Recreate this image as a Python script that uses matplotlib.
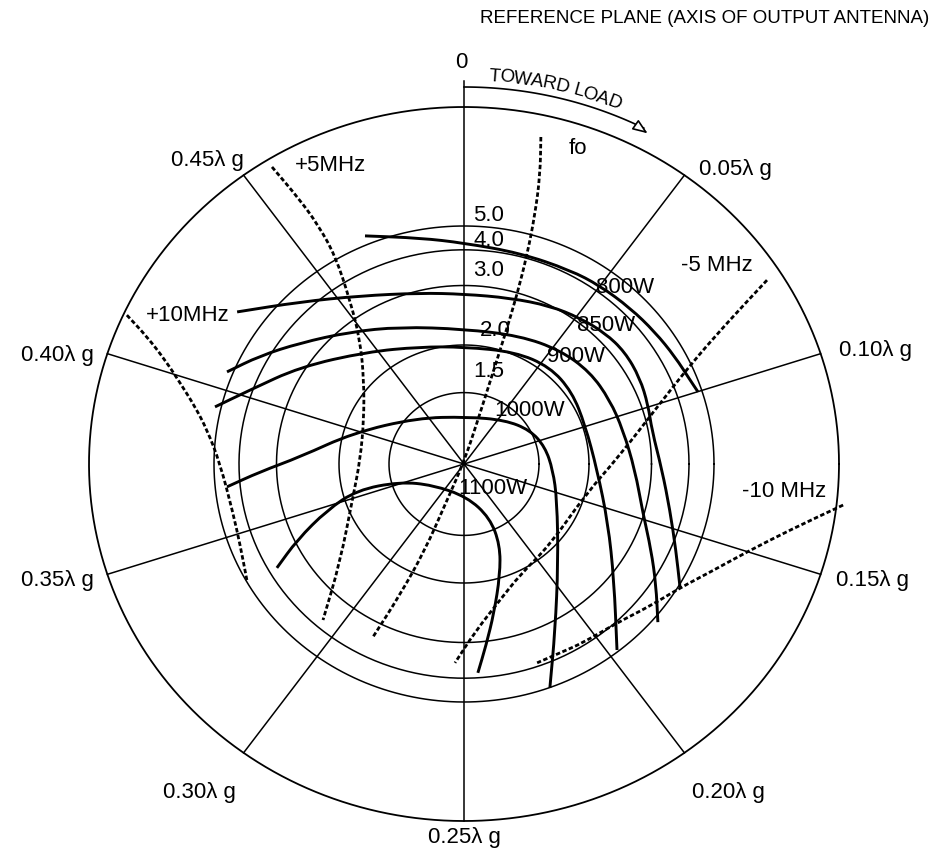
import numpy as np
import matplotlib
matplotlib.use("Agg")
import matplotlib.pyplot as plt
from matplotlib.path import Path
from matplotlib.patches import PathPatch

plt.rcParams['font.family'] = ['Liberation Sans', 'DejaVu Sans']

# VSWR circles
vswr = [1.5, 2.0, 3.0, 4.0, 5.0]
vswr_labels = ["1.5", "2.0", "3.0", "4.0", "5.0"]

# distance from the reference plane, toward load (wavelengths)
wl_marks = [0.0, 0.05, 0.10, 0.15, 0.20, 0.25, 0.30, 0.35, 0.40, 0.45]
wl_labels = ["0", "0.05λ g", "0.10λ g", "0.15λ g", "0.20λ g",
             "0.25λ g", "0.30λ g", "0.35λ g", "0.40λ g", "0.45λ g"]

# power contours, points in the reflection plane (u, v)
p800 = [(-0.264, 0.639), (-0.117, 0.633), (0.0, 0.619), (0.149, 0.591), (0.283, 0.543),
        (0.363, 0.499), (0.443, 0.437), (0.509, 0.370), (0.563, 0.300), (0.603, 0.235),
        (0.624, 0.202)]
p850 = [(-0.605, 0.426), (-0.437, 0.454), (-0.277, 0.471), (-0.117, 0.479), (0.0, 0.476),
        (0.123, 0.465), (0.229, 0.443), (0.309, 0.409), (0.376, 0.367), (0.429, 0.314),
        (0.469, 0.241), (0.491, 0.165), (0.501, 0.095), (0.528, -0.017), (0.549, -0.129),
        (0.565, -0.241), (0.576, -0.345)]
p900 = [(-0.632, 0.258), (-0.544, 0.303), (-0.437, 0.339), (-0.304, 0.370), (-0.171, 0.384),
        (0.0, 0.378), (0.149, 0.359), (0.256, 0.319), (0.336, 0.258), (0.389, 0.179),
        (0.424, 0.095), (0.456, -0.017), (0.477, -0.137), (0.499, -0.241), (0.512, -0.339),
        (0.517, -0.443)]
p950 = [(-0.664, 0.160), (-0.571, 0.207), (-0.437, 0.272), (-0.259, 0.314), (-0.117, 0.328),
        (0.0, 0.328), (0.136, 0.314), (0.229, 0.272), (0.288, 0.202), (0.323, 0.109),
        (0.355, -0.017), (0.384, -0.165), (0.400, -0.325), (0.408, -0.521)]
p1000 = [(-0.632, -0.064), (-0.544, -0.022), (-0.437, 0.020), (-0.296, 0.087), (-0.125, 0.129),
         (0.008, 0.132), (0.109, 0.123), (0.176, 0.095), (0.216, 0.048), (0.237, -0.017),
         (0.248, -0.101), (0.251, -0.277), (0.243, -0.465), (0.229, -0.627)]
p1100 = [(-0.499, -0.291), (-0.445, -0.213), (-0.365, -0.129), (-0.285, -0.073), (-0.171, -0.050),
         (-0.083, -0.059), (0.008, -0.092), (0.069, -0.151), (0.096, -0.227), (0.096, -0.311),
         (0.080, -0.417), (0.059, -0.507), (0.037, -0.585)]

# frequency contours
fo = [(0.205, 0.916), (0.203, 0.810), (0.189, 0.697), (0.168, 0.585), (0.141, 0.473),
      (0.109, 0.361), (0.075, 0.249), (0.037, 0.123), (0.0, 0.006), (-0.051, -0.115),
      (-0.104, -0.241), (-0.171, -0.367), (-0.243, -0.485)]
m5 = [(0.808, 0.515), (0.696, 0.389), (0.603, 0.277), (0.509, 0.151), (0.416, 0.025),
      (0.323, -0.087), (0.229, -0.227), (0.149, -0.311), (0.096, -0.381), (0.029, -0.471),
      (-0.024, -0.557)]
m10 = [(1.011, -0.115), (0.869, -0.185), (0.755, -0.246), (0.656, -0.303), (0.576, -0.347),
       (0.496, -0.398), (0.408, -0.445), (0.317, -0.501), (0.256, -0.529), (0.195, -0.557)]
p5 = [(-0.512, 0.832), (-0.437, 0.739), (-0.389, 0.669), (-0.344, 0.585), (-0.304, 0.459),
      (-0.277, 0.347), (-0.267, 0.235), (-0.267, 0.123), (-0.277, 0.011), (-0.296, -0.092),
      (-0.331, -0.277), (-0.376, -0.437)]
p10 = [(-0.899, 0.417), (-0.845, 0.356), (-0.797, 0.291), (-0.757, 0.227), (-0.717, 0.160),
       (-0.685, 0.095), (-0.651, 0.003), (-0.616, -0.137), (-0.597, -0.227), (-0.579, -0.325)]

power_curves = [p800, p850, p900, p950, p1000, p1100]
freq_curves = [fo, m5, m10, p5, p10]

power_labels = ["800W", "850W", "900W", "1000W", "1100W"]
freq_labels = ["fo", "-5 MHz", "-10 MHz", "+5MHz", "+10MHz"]

# --- layout -------------------------------------------------------------
W, H = 931, 850
CX, CY, RX, RY = 464, 464, 375, 357   # centre and radii of the chart in pixels
FS = 16

fig = plt.figure(figsize=(W / 100, H / 100), dpi=100)
fig.patch.set_facecolor('white')
ax = fig.add_axes([0, 0, 1, 1])
ax.set_xlim(-CX / RX, (W - CX) / RX)
ax.set_ylim(-(H - CY) / RY, CY / RY)
ax.axis('off')

thin = 1.1
thick = 2.1


def smooth(pts, **kw):
    # quadratic curve through the midpoints of the read points
    pts = np.asarray(pts, dtype=float)
    mids = (pts[:-1] + pts[1:]) / 2
    verts = [pts[0], mids[0]]
    codes = [Path.MOVETO, Path.LINETO]
    for i in range(1, len(pts) - 1):
        verts += [pts[i], mids[i]]
        codes += [Path.CURVE3, Path.CURVE3]
    verts.append(pts[-1])
    codes.append(Path.LINETO)
    ax.add_patch(PathPatch(Path(verts, codes), fill=False, **kw))


# outer boundary and VSWR circles
t = np.linspace(0, 2 * np.pi, 500)
ax.plot(np.cos(t), np.sin(t), color='black', lw=1.3)
vswr_lab_pos = [(0.024, 0.059), (0.043, 0.042), (0.024, 0.043), (0.024, 0.027), (0.024, 0.030)]
for s, lab, (du, dv) in zip(vswr, vswr_labels, vswr_lab_pos):
    g = (s - 1) / (s + 1)
    ax.plot(g * np.cos(t), g * np.sin(t), color='black', lw=thin)
    ax.text(du, g + dv, lab, fontsize=FS, ha='left', va='center')

# radial lines every 0.05 wavelength (360 deg = 0.5 wavelength)
label_layout = [  # (du, dv, ha, va)
    (-0.008, 0.126, 'center', 'center'),
    (0.04, 0.015, 'left', 'center'),
    (0.05, 0.01, 'left', 'center'),
    (0.04, -0.016, 'left', 'center'),
    (0.02, -0.11, 'left', 'center'),
    (0.0, -0.045, 'center', 'center'),
    (-0.02, -0.11, 'right', 'center'),
    (-0.035, -0.016, 'right', 'center'),
    (-0.035, -0.005, 'right', 'center'),
    (0.0, 0.04, 'right', 'center'),
]
for wl, lab, (du, dv, ha, va) in zip(wl_marks, wl_labels, label_layout):
    a = 2 * np.pi * wl / 0.5
    r_end = 1.072 if wl == 0 else 1.0
    ax.plot([0, r_end * np.sin(a)], [0, r_end * np.cos(a)], color='black', lw=thin)
    ax.text(np.sin(a) + du, np.cos(a) + dv, lab, fontsize=FS, ha=ha, va=va)

# "toward load" arrow
ta = np.radians(np.linspace(0, 27, 80))
ax.plot(1.056 * np.sin(ta), 1.056 * np.cos(ta), color='black', lw=1.2)
ax.annotate('', xy=(1.048 * np.sin(ta[-1]) + 0.02, 1.048 * np.cos(ta[-1]) - 0.012),
            xytext=(1.056 * np.sin(ta[-6]), 1.056 * np.cos(ta[-6])),
            arrowprops=dict(arrowstyle='-|>,head_length=0.9,head_width=0.35',
                            fc='white', ec='black', lw=1.2))

word = "TOWARD LOAD"
widths = {'T': .611, 'O': .778, 'W': .944, 'A': .667, 'R': .722, 'D': .722, ' ': .278, 'L': .556}
cw = np.array([widths[c] for c in word])
centres = np.cumsum(cw) - cw / 2
a0, a1 = np.radians(3.5), np.radians(22.5)
sx = W / (ax.get_xlim()[1] - ax.get_xlim()[0])
sy = H / (ax.get_ylim()[1] - ax.get_ylim()[0])
for c, f in zip(word, centres / cw.sum()):
    a = a0 + f * (a1 - a0)
    rot = np.degrees(np.arctan2(-sy * np.sin(a), sx * np.cos(a)))
    ax.text(1.088 * np.sin(a), 1.088 * np.cos(a), c, fontsize=13.5,
            rotation=rot, rotation_mode='anchor', ha='center', va='center')

# contours
for pts in power_curves:
    smooth(pts, ec='black', lw=thick, capstyle='butt')
for pts in freq_curves:
    smooth(pts, ec='black', lw=2.0, linestyle=(0, (1.6, 0.9)))

power_pos = [(0.352, 0.493), (0.300, 0.389), (0.222, 0.300), (0.080, 0.151), (-0.015, -0.070)]
for lab, (u, v) in zip(power_labels, power_pos):
    ax.text(u, v, lab, fontsize=FS, ha='left', va='center')

freq_pos = [(0.304, 0.885), (0.675, 0.557), (0.853, -0.076), (-0.357, 0.835), (-0.736, 0.417)]
for lab, (u, v) in zip(freq_labels, freq_pos):
    ax.text(u, v, lab, fontsize=FS, ha='center', va='center')

fig.text(0.757, 0.978, "REFERENCE PLANE (AXIS OF OUTPUT ANTENNA)", fontsize=13.5,
         ha='center', va='center')

fig.savefig('out.png', dpi=100)
